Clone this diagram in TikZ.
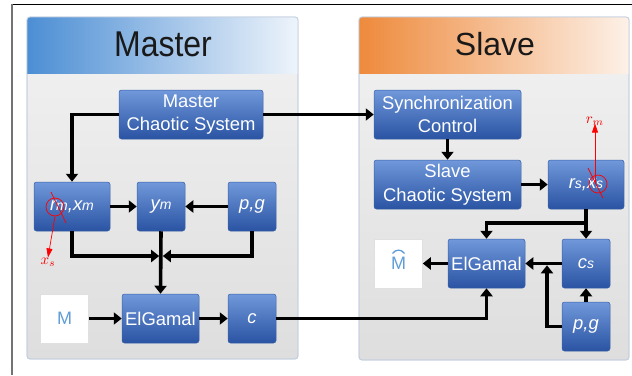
\documentclass[tikz,border=0pt]{standalone}
\usepackage{fontspec}
\setmainfont{Liberation Sans}
\usetikzlibrary{arrows.meta,calc}

\definecolor{nodetop}{HTML}{7098DA}
\definecolor{nodebot}{HTML}{2A53A3}
\definecolor{nodeedge}{HTML}{3A62A8}
\definecolor{panelline}{HTML}{C2CFDF}
\definecolor{mastdark}{HTML}{4C8ED4}
\definecolor{mastlight}{HTML}{EEF4FB}
\definecolor{slavdark}{HTML}{EE8A3C}
\definecolor{slavlight}{HTML}{FDF1E8}
\definecolor{msgblue}{HTML}{5F9ED8}

\tikzset{
  blk/.style={rounded corners=2.5pt, top color=nodetop, bottom color=nodebot,
    draw=nodeedge, line width=0.5pt, text=white, inner sep=0pt, align=center,
    font=\fontsize{18.4}{23.5}\selectfont, minimum height=49pt},
  var/.style={blk, font=\fontsize{18.4}{23.5}\selectfont\itshape},
  msgbox/.style={fill=white, draw=black!12, line width=0.5pt, inner sep=0pt,
    text=msgblue, font=\fontsize{18}{20}\selectfont,
    minimum width=48pt, minimum height=49pt},
  arr/.style={line width=3.6pt, -{Triangle[length=8pt,width=12pt]}},
  panel/.style={rounded corners=3pt, top color=black!5, bottom color=black!13,
    draw=panelline, line width=0.8pt},
  title/.style={font=\fontsize{32}{34}\selectfont, text=black!90},
  ring/.style={circle, draw=red, line width=0.7pt, minimum size=18pt, inner sep=0pt},
  redline/.style={draw=red, line width=0.7pt},
  redarr/.style={redline, -{Triangle[length=9pt,width=6pt]}},
  redlbl/.style={text=red, inner sep=0pt},
}
\newcommand{\sub}[1]{{\fontsize{14}{14}\selectfont #1}}

\begin{document}
\begin{tikzpicture}[x=1pt,y=-1pt]
\useasboundingbox (0,0) rectangle (632,375);

% outer frame
\draw[black, line width=1pt] (12,4) -- (632,4);
\draw[black!55, line width=1.6pt] (12,4) -- (12,375);

% Master panel
\path[panel] (27,17) rectangle (298,359);
\begin{scope}
  \clip[rounded corners=3pt] (27,17) rectangle (298,359);
  \shade[left color=mastdark, right color=mastlight] (27,17) rectangle (298,73);
\end{scope}
\draw[panelline, line width=0.8pt, rounded corners=3pt] (27,17) rectangle (298,359);
\node[title] (mtitle) at (163,44) {\scalebox{1}[1.12]{Master}};

% Slave panel
\path[panel] (359,17) rectangle (629,360);
\begin{scope}
  \clip[rounded corners=3pt] (359,17) rectangle (629,360);
  \shade[left color=slavdark, right color=slavlight] (359,17) rectangle (629,73);
\end{scope}
\draw[panelline, line width=0.8pt, rounded corners=3pt] (359,17) rectangle (629,360);
\node[title] (stitle) at (495,44) {Slave};

% Master blocks
\node[blk, minimum width=144pt] (mcs) at (191,114.5) {Master\\Chaotic System};
\node[var, minimum width=76pt] (rmxm) at (72,206.5) {r\sub{m},x\sub{m}};
\node[var, minimum width=48pt] (ym) at (161,206.5) {y\sub{m}};
\node[var, minimum width=48pt] (pgm) at (252,206.5) {p,g};
\node[msgbox] (msg) at (64.5,318.5) {M};
\node[blk, minimum width=77pt] (elgm) at (160.5,318.5) {ElGamal};
\node[var, minimum width=48pt] (cm) at (252,318.5) {c};

% Slave blocks
\node[blk, minimum width=147pt] (sync) at (447.5,114.5) {Synchronization\\Control};
\node[blk, minimum width=147pt] (scs) at (447.5,184.5) {Slave\\Chaotic System};
\node[var, minimum width=76pt] (rsxs) at (586,184.5) {r\sub{s},x\sub{s}};
\node[msgbox] (mhat) at (398.5,263.5) {\raisebox{1pt}{M}};
% hat over the recovered message
\draw[msgblue, line width=1.3pt] ([xshift=-6pt,yshift=10pt]mhat.center)
  .. controls ([xshift=-3pt,yshift=14.5pt]mhat.center)
  and ([xshift=3pt,yshift=14.5pt]mhat.center) .. ([xshift=6pt,yshift=10pt]mhat.center);
\node[blk, minimum width=77pt] (elgs) at (486.5,263.5) {ElGamal};
\node[var, minimum width=48pt] (cs) at (586,263.5) {c\sub{s}};
\node[var, minimum width=48pt] (pgs) at (586,326.5) {p,g};

% junction points
\coordinate (jm) at (161,256);
\coordinate (js) at (586,223);
\coordinate (jp) at (547,263.5);

% Master connectors
\draw[arr] (mcs.west) -| (rmxm.north);
\draw[arr] (mcs.east) -- (sync.west);
\draw[arr] (rmxm) -- (ym);
\draw[arr] (pgm) -- (ym);
\draw[arr, shorten >=1.8pt] (rmxm.south) |- (jm);
\draw[arr, shorten >=1.8pt] (pgm.south) |- (jm);
\draw[arr] (ym.south) -- (elgm.north);
\draw[arr] (msg) -- (elgm);
\draw[arr] (elgm) -- (cm);
\draw[arr] (cm.east) -| (elgs.south);

% Slave connectors
\draw[arr] (sync) -- (scs);
\draw[arr] (scs) -- (rsxs);
\draw[arr] (rsxs.south) -- (cs.north);
\draw[arr] (js) -| (elgs.north);
\draw[arr] (cs) -- (elgs);
\draw[arr, shorten >=1.8pt] (pgs.west) -| (jp);
\draw[arr] (pgs) -- (cs);
\draw[arr] (elgs) -- (mhat);

% red annotations
\node[ring] (cx) at (55,207) {};
\draw[redline] (51,192) -- (66,223);
\node[redlbl] (xs) at (48,262) {\scalebox{1.5}{$x_s$}};
\draw[redarr] (cx.south) -- (xs.north);

\node[ring] (cr) at (598,184) {};
\draw[redline] (588,168) -- (603,198);
\node[redlbl] (rm) at (595,121) {\scalebox{1.5}{$r_m$}};
\draw[redarr] (cr.center -| rm.south) -- ([yshift=2pt]rm.south);
\end{tikzpicture}
\end{document}
